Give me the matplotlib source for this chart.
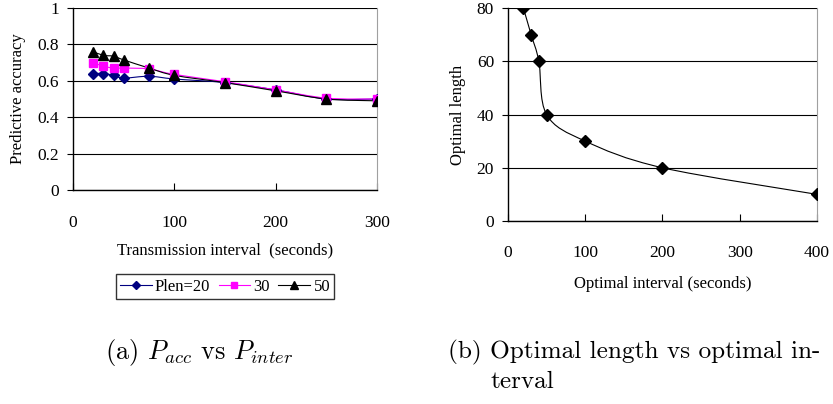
import numpy as np
import matplotlib
matplotlib.use("Agg")
import matplotlib.pyplot as plt
from matplotlib.path import Path
from matplotlib.patches import PathPatch

# (a) predictive accuracy vs transmission interval
interval = [20, 30, 40, 50, 75, 100, 150, 200, 250, 300]
acc_plen20 = [0.64, 0.64, 0.63, 0.615, 0.625, 0.61, 0.59, 0.55, 0.50, 0.50]
acc_plen30 = [0.70, 0.68, 0.67, 0.67, 0.665, 0.635, 0.595, 0.55, 0.505, 0.50]
acc_plen50 = [0.76, 0.74, 0.735, 0.715, 0.67, 0.63, 0.59, 0.545, 0.50, 0.49]

# (b) optimal length vs optimal interval
opt_interval = [20, 30, 40, 50, 100, 200, 400]
opt_length = [80, 70, 60, 40, 30, 20, 10]

plt.rcParams['font.family'] = ['Liberation Serif', 'DejaVu Serif']
plt.rcParams['mathtext.fontset'] = 'cm'


def smooth_line(ax, x, y, color, lw=0.8):
    """Excel-style smoothed line through the points (cubic Bezier segments)."""
    p = np.column_stack([x, y]).astype(float)
    n = len(p)
    verts = [p[0]]
    codes = [Path.MOVETO]
    for i in range(n - 1):
        p_prev = p[i - 1] if i > 0 else p[i]
        p_next2 = p[i + 2] if i + 2 < n else p[i + 1]
        c1 = p[i] + (p[i + 1] - p_prev) / 6
        c2 = p[i + 1] - (p_next2 - p[i]) / 6
        verts += [c1, c2, p[i + 1]]
        codes += [Path.CURVE4] * 3
    ax.add_patch(PathPatch(Path(verts, codes), fill=False, edgecolor=color,
                           lw=lw, zorder=2))


def style_axes(ax, xpad):
    ax.grid(axis='y', color='black', lw=0.8)
    ax.set_axisbelow(True)
    ax.spines['top'].set_visible(False)
    ax.spines['right'].set_color('#a0a0a0')
    ax.spines['left'].set_linewidth(1.0)
    ax.spines['bottom'].set_linewidth(1.0)
    ax.tick_params(axis='x', direction='in', length=5, labelsize=12.5, pad=xpad)
    ax.tick_params(axis='y', direction='out', length=4, labelsize=12.5, pad=6)


fig = plt.figure(figsize=(8.33, 4.04), dpi=100)

# left panel
ax1 = fig.add_axes([0.0876, 0.5297, 0.365, 0.4505])
series = [
    (acc_plen20, '#000080', 'D', 5, 'Plen=20'),
    (acc_plen30, '#ff00ff', 's', 6, '30'),
    (acc_plen50, 'black', '^', 7, '50'),
]
for vals, col, mk, ms, lab in series:
    smooth_line(ax1, interval, vals, col)
    ax1.plot(interval, vals, ls='none', color=col, marker=mk, ms=ms, zorder=3)

ax1.set_xlim(0, 300)
ax1.set_ylim(0, 1)
ax1.set_xticks([0, 100, 200, 300])
ax1.set_yticks([0, 0.2, 0.4, 0.6, 0.8, 1])
ax1.set_yticklabels(['0', '0.2', '0.4', '0.6', '0.8', '1'])
style_axes(ax1, 18)
ax1.set_xlabel('Transmission interval  (seconds)', fontsize=12, labelpad=8)
ax1.set_ylabel('Predictive accuracy', fontsize=12, labelpad=8)

handles = [plt.Line2D([], [], color=col, marker=mk, ms=ms - 1, lw=0.8)
           for vals, col, mk, ms, lab in series]
labels = [lab for *_, lab in series]
leg = ax1.legend(handles, labels, ncol=3, loc='upper center',
                 bbox_to_anchor=(0.5, -0.464), fontsize=12, frameon=True,
                 fancybox=False, edgecolor='black', handlelength=1.9,
                 handletextpad=0.2, columnspacing=0.5, borderpad=0.25,
                 borderaxespad=0)
leg.get_frame().set_linewidth(1.0)

# right panel
ax2 = fig.add_axes([0.6098, 0.453, 0.371, 0.527])
smooth_line(ax2, opt_interval, opt_length, 'black')
ax2.plot(opt_interval, opt_length, ls='none', color='black', marker='D',
         ms=6, zorder=3)
ax2.set_xlim(0, 400)
ax2.set_ylim(0, 80)
ax2.set_xticks([0, 100, 200, 300, 400])
ax2.set_yticks([0, 20, 40, 60, 80])
style_axes(ax2, 17)
ax2.set_xlabel('Optimal interval (seconds)', fontsize=12, labelpad=11)
ax2.set_ylabel('Optimal length', fontsize=12, labelpad=8)

# captions
cap = dict(family='cmr10', va='center')
fig.text(105 / 833, 1 - 352 / 404, r'(a) $P_{acc}$ vs $P_{inter}$',
         fontsize=19, **cap)
fig.text(448 / 833, 1 - 352 / 404, '(b) Optimal length vs optimal in-',
         fontsize=18.2, **cap)
fig.text(490 / 833, 1 - 382 / 404, 'terval', fontsize=18.2, **cap)

fig.savefig('out.png', dpi=100)
